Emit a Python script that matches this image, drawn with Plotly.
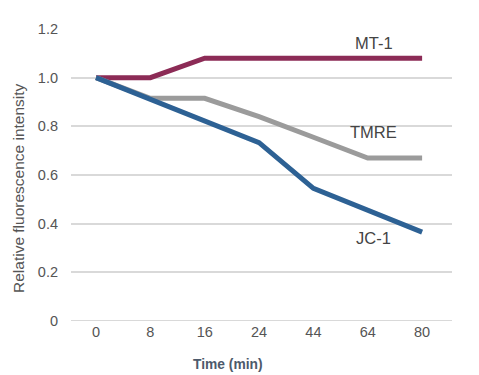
import plotly.graph_objects as go

times = ["0", "8", "16", "24", "44", "64", "80"]
mt1 = [1.0, 1.0, 1.08, 1.08, 1.08, 1.08, 1.08]
tmre = [1.0, 0.915, 0.915, 0.84, 0.755, 0.67, 0.67]
jc1 = [1.0, 0.912, 0.82, 0.733, 0.545, 0.455, 0.365]
y_ticks = [0, 0.2, 0.4, 0.6, 0.8, 1.0, 1.2]
y_tick_labels = ["0", "0.2", "0.4", "0.6", "0.8", "1.0", "1.2"]

series = [
    ("MT-1", mt1, "#8c2b56", 1.143),
    ("TMRE", tmre, "#9b9b9b", 0.778),
    ("JC-1", jc1, "#2d6194", 0.342),
]

FONT = "Liberation Sans, Arial, sans-serif"

fig = go.Figure()
for name, vals, color, ly in series:
    fig.add_trace(go.Scatter(x=times, y=vals, mode="lines", name=name,
                             line=dict(color=color, width=5), showlegend=False))
    fig.add_annotation(x=5.11, y=ly, text=name, showarrow=False,
                       font=dict(family=FONT, size=16.5, color="#444444"),
                       xanchor="center", yanchor="middle")

# page body has an 8px margin; figure is sized/offset to compensate
fig.update_layout(
    width=471, height=367,
    margin=dict(l=63, r=27, t=21, b=54),
    paper_bgcolor="white", plot_bgcolor="white",
    font=dict(family=FONT, color="#555555", size=14),
    xaxis=dict(type="category", range=[-0.46, 6.55], showgrid=False, zeroline=False,
               showline=False, ticks="", tickfont=dict(size=14.5, color="#555555"),
               automargin=False),
    yaxis=dict(range=[0, 1.2], tickvals=y_ticks, ticktext=y_tick_labels,
               showgrid=True, gridcolor="#d9d9d9", gridwidth=2, zeroline=False,
               showline=False, ticks="", ticklabelstandoff=12,
               tickfont=dict(size=14.5, color="#555555"), automargin=False),
)
fig.add_shape(type="line", xref="paper", yref="y", x0=0, x1=1, y0=0, y1=0,
              line=dict(color="#d9d9d9", width=2), layer="below")

# axis titles as annotations (paper coords in pixels of the figure)
fig.add_annotation(xref="paper", yref="paper", x=(220 - 63) / 381, y=-(356 - 21 - 292) / 292,
                   text="<b>Time (min)</b>", showarrow=False,
                   font=dict(family=FONT, size=13.8, color="#4d5a6b"),
                   xanchor="center", yanchor="middle")
fig.add_annotation(xref="paper", yref="paper", x=(10 - 63) / 381, y=(313 - 180) / 292,
                   text="Relative fluorescence intensity", showarrow=False, textangle=-90,
                   font=dict(family=FONT, size=15.5, color="#555555"),
                   xanchor="center", yanchor="middle")

fig.write_html("out.html")
